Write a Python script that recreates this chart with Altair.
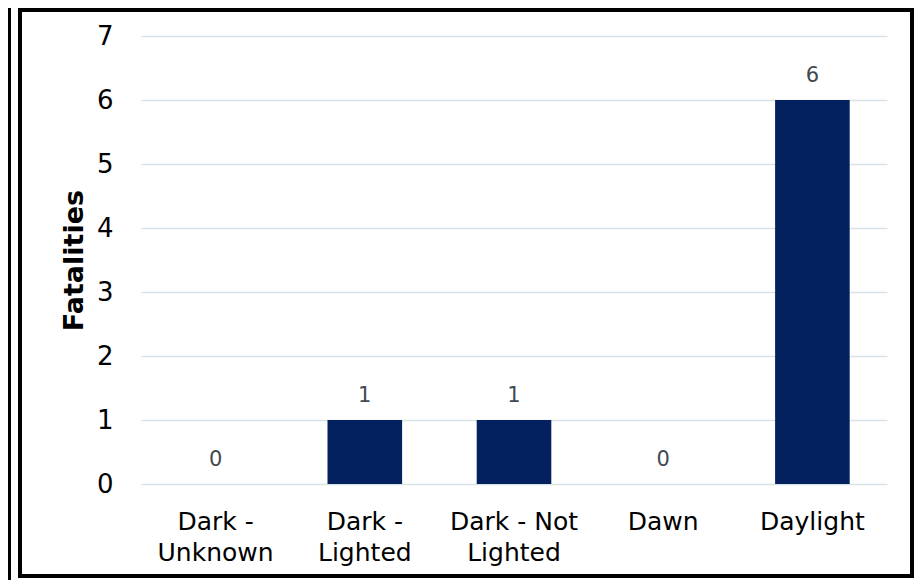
import altair as alt
import pandas as pd

categories = ["Dark -\nUnknown", "Dark -\nLighted", "Dark - Not\nLighted", "Dawn", "Daylight"]
fatalities = [0, 1, 1, 0, 6]
y_ticks = [0, 1, 2, 3, 4, 5, 6, 7]

df = pd.DataFrame({"cond": categories, "fatal": fatalities})
FONT = "DejaVu Sans"

x_enc = alt.X(
    "cond:N", sort=categories, title=None,
    scale=alt.Scale(paddingInner=0.5, paddingOuter=0.25),
    axis=alt.Axis(labelExpr="split(datum.label, '\\n')", labelAngle=0, labelFontSize=25,
                  labelFont=FONT, labelColor="#000000", labelPadding=25, labelLineHeight=31,
                  domain=False, ticks=False, grid=False),
)
y_enc = alt.Y(
    "fatal:Q", title="Fatalities",
    scale=alt.Scale(domain=[0, 7], nice=False),
    axis=alt.Axis(values=y_ticks, format="d", labelFontSize=26, labelFont=FONT, labelColor="#000000",
                  labelPadding=28, domain=False, ticks=False, gridColor="#d9e2e7", gridWidth=1.5,
                  titleFont=FONT, titleFontSize=27, titleFontWeight="bold", titleColor="#000000",
                  titlePadding=8),
)

bars = alt.Chart(df).mark_bar(color="#03215e").encode(x=x_enc, y=y_enc)
labels = alt.Chart(df).mark_text(dy=-18, baseline="alphabetic", fontSize=21, font=FONT,
                                 color="#404a50").encode(
    x=alt.X("cond:N", sort=categories), y="fatal:Q", text="fatal:Q")

frame_df = pd.DataFrame({"k": [0]})
frame = alt.Chart(frame_df).mark_rect(fill=None, stroke="#000000", strokeWidth=4).encode(
    x=alt.value(-121), x2=alt.value(771), y=alt.value(-26), y2=alt.value(540))
left_line = alt.Chart(frame_df).mark_rect(fill="#000000").encode(
    x=alt.value(-133), x2=alt.value(-130), y=alt.value(-28), y2=alt.value(544))

chart = alt.layer(left_line, bars, labels, frame).properties(
    width=746, height=448,
    autosize=alt.AutoSizeParams(type="none"),
    padding={"left": 133, "top": 28, "right": 28, "bottom": 96},
    background="#ffffff",
).configure_view(stroke=None)

chart.save("out.html", embed_options={"renderer": "svg", "actions": False})
